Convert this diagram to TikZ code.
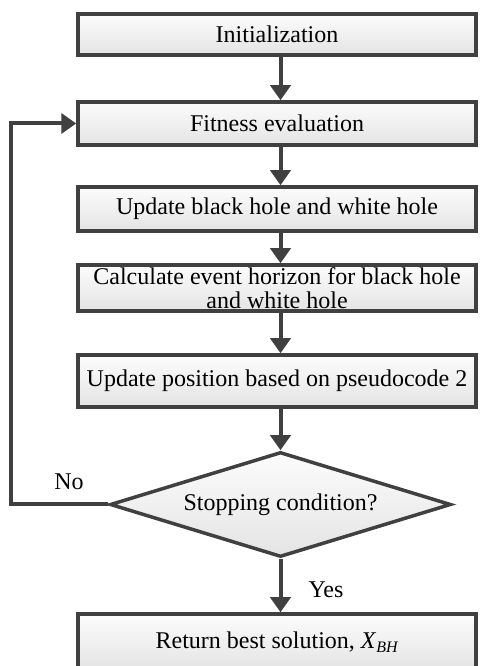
\documentclass[tikz,border=0pt]{standalone}
\usepackage{fontspec}
\setmainfont{Liberation Serif}
\usetikzlibrary{arrows.meta,shapes.geometric}
\definecolor{edgegray}{HTML}{404040}
\definecolor{filltop}{HTML}{FCFCFC}
\definecolor{fillbot}{HTML}{E4E4E4}
\tikzset{
  procbox/.style={draw=edgegray, line width=3.5pt, rectangle, top color=filltop, bottom color=fillbot,
    minimum width=398pt, inner sep=0pt, align=center, font=\fontsize{24}{24}\selectfont, text=black},
  decbox/.style={draw=edgegray, line width=3.5pt, diamond, top color=filltop, bottom color=fillbot,
    minimum width=341pt, minimum height=105pt, aspect=3.2, inner sep=0pt, font=\fontsize{24}{24}\selectfont, text=black},
  flow/.style={draw=edgegray, line width=4pt, -{Triangle[width=20pt,length=15pt]}},
  lbl/.style={font=\fontsize{24}{24}\selectfont, text=black, inner sep=0pt}
}
\begin{document}
\begin{tikzpicture}[x=1pt,y=1pt]
\useasboundingbox (0,0) rectangle (480,666);
\clip (0,0) rectangle (480,666);
\fill[white] (0,0) rectangle (480,666);
\node[procbox, minimum height=41pt] (init) at (277,631.5) {Initialization};
\node[procbox, minimum height=43pt] (fit) at (277,542.5) {Fitness evaluation};
\node[procbox, minimum height=44pt] (ubh) at (277,457) {Update black hole and white hole};
\node[procbox, minimum height=46pt] (calc) at (277,378) {Calculate event horizon for black hole\\and white hole};
\node[procbox, minimum height=52pt] (upos) at (277,285) {Update position based on pseudocode 2};
\node[decbox] (dec) at (280.5,161.5) {Stopping condition?};
\node[procbox, minimum height=56pt] (ret) at (277,24) {Return best solution, \textit{X}\raisebox{-0.35ex}{\fontsize{16}{18}\selectfont\textit{BH}}};
\coordinate (loopx) at (11,161.5);
\draw[flow] (init.south -| dec) -- (fit.north -| dec);
\draw[flow] (fit.south -| dec) -- (ubh.north -| dec);
\draw[flow] (ubh.south -| dec) -- (calc.north -| dec);
\draw[flow] (calc.south -| dec) -- (upos.north -| dec);
\draw[flow] (upos.south -| dec) -- (dec.north);
\draw[flow] (dec.south) -- (ret.north -| dec);
\draw[flow] (dec.west) -- (loopx) |- (fit.west);
\node[lbl] (no) at (69,184) {No};
\node[lbl] (yes) at (326,76) {Yes};
\end{tikzpicture}
\end{document}
